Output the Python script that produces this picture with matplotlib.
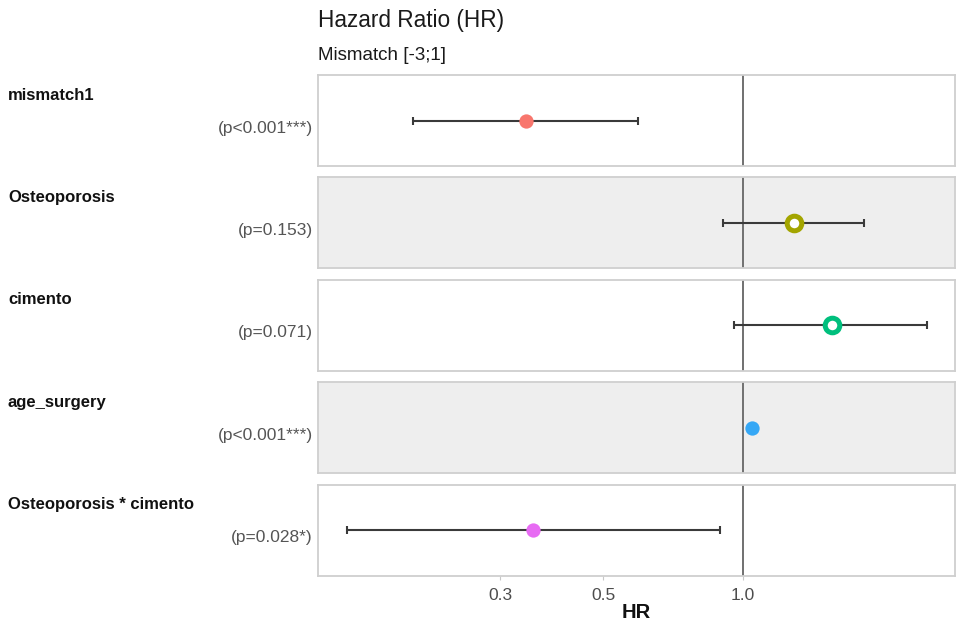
import numpy as np
import matplotlib
matplotlib.use("Agg")
import matplotlib.pyplot as plt
from matplotlib.ticker import FixedLocator, FixedFormatter, NullLocator

plt.rcParams["font.family"] = ["Liberation Sans", "DejaVu Sans"]

# Cox model estimates
variables = ["mismatch1", "Osteoporosis", "cimento", "age_surgery", "Osteoporosis * cimento"]
hr = [0.340, 1.288, 1.555, 1.046, 0.353]
ci_low = [0.194, 0.905, 0.956, 1.032, 0.140]
ci_high = [0.594, 1.823, 2.49, 1.060, 0.892]
p_labels = ["(p<0.001***)", "(p=0.153)", "(p=0.071)", "(p<0.001***)", "(p=0.028*)"]
hollow = [False, True, True, False, False]
colors = ["#F8766D", "#A3A500", "#00BF7D", "#35A7F5", "#E76BF3"]

x_ticks = [0.3, 0.5, 1.0]
x_tick_labels = ["0.3", "0.5", "1.0"]
x_lim = (0.1214, 2.86)

W, H = 959, 627
fig = plt.figure(figsize=(W / 100, H / 100), dpi=100)

left_px, right_px = 318, 955
panel_h = 91
step = 102.4
first_top = 75

fig.text(left_px / W, 1 - 20 / H, "Hazard Ratio (HR)", fontsize=16.3,
         ha="left", va="center", color="#1A1A1A")
fig.text(left_px / W, 1 - 55 / H, "Mismatch [-3;1]", fontsize=13.5,
         ha="left", va="center", color="#1A1A1A")

axes = []
for i, name in enumerate(variables):
    top = first_top + i * step
    ax = fig.add_axes([left_px / W, 1 - (top + panel_h) / H,
                       (right_px - left_px) / W, panel_h / H])
    ax.set_facecolor("#EEEEEE" if i % 2 == 1 else "white")
    for s in ax.spines.values():
        s.set_color("#CFCFCF")
        s.set_linewidth(1.3)
    ax.set_xscale("log")
    ax.set_xlim(*x_lim)
    ax.set_ylim(-1, 1)
    ax.axvline(1.0, color="#707070", lw=1.4, zorder=1)
    ax.errorbar([hr[i]], [0],
                xerr=[[hr[i] - ci_low[i]], [ci_high[i] - hr[i]]],
                fmt="none", ecolor="#3A3A3A", elinewidth=1.5,
                capsize=3, capthick=1.5, zorder=2)
    if hollow[i]:
        ax.plot([hr[i]], [0], "o", ms=10.5, mfc="white", mec=colors[i],
                mew=3.6, zorder=3)
    else:
        ax.plot([hr[i]], [0], "o", ms=10.3, mfc=colors[i], mec=colors[i],
                mew=0, zorder=3)
    ax.yaxis.set_major_locator(NullLocator())
    ax.xaxis.set_minor_locator(NullLocator())
    if i < len(variables) - 1:
        ax.xaxis.set_major_locator(NullLocator())
    else:
        ax.xaxis.set_major_locator(FixedLocator(x_ticks))
        ax.xaxis.set_major_formatter(FixedFormatter(x_tick_labels))
        ax.tick_params(axis="x", length=3, width=0.8, color="#C8C8C8",
                       labelsize=12.5, labelcolor="#4D4D4D", pad=6)
        ax.set_xlabel("HR", fontsize=14.5, fontweight="bold",
                      color="#111111", labelpad=0)
    fig.text(8 / W, 1 - (top + 20) / H, name, fontsize=12, fontweight="bold",
             ha="left", va="center", color="#111111")
    fig.text(313 / W, 1 - (top + 53) / H, p_labels[i], fontsize=12.5,
             ha="right", va="center", color="#555555")
    axes.append(ax)

fig.savefig("out.png", dpi=100)
